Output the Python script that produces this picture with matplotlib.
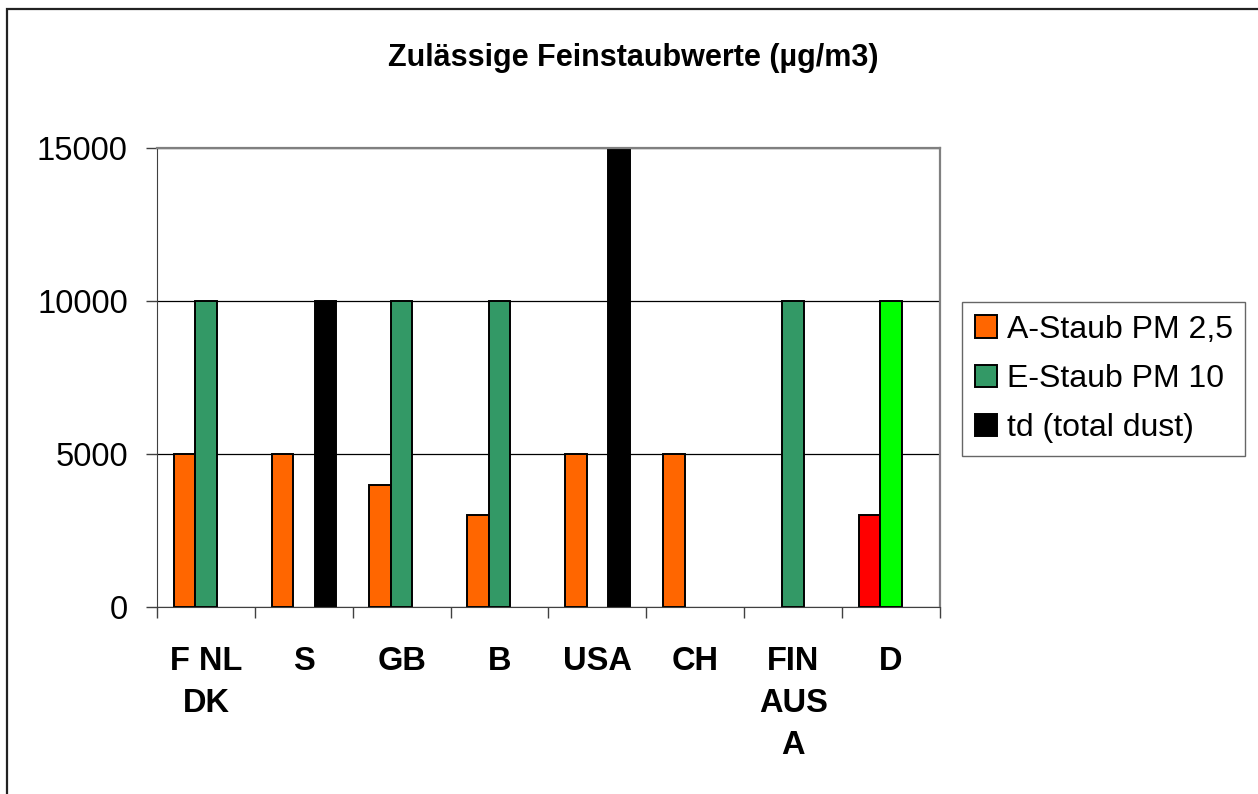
import numpy as np
import matplotlib
matplotlib.use("Agg")
import matplotlib.pyplot as plt
from matplotlib.patches import Rectangle

plt.rcParams['font.family'] = ['Liberation Sans', 'DejaVu Sans']

categories = ['F NL\nDK', 'S', 'GB', 'B', 'USA', 'CH', 'FIN\nAUS\nA', 'D']
series_names = ['A-Staub PM 2,5', 'E-Staub PM 10', 'td (total dust)']
a_staub = [5000, 5000, 4000, 3000, 5000, 5000, np.nan, 3000]
e_staub = [10000, np.nan, 10000, 10000, np.nan, np.nan, 10000, 10000]
td_dust = [np.nan, 10000, np.nan, np.nan, 15000, np.nan, np.nan, np.nan]

# series colours, D has its own highlight colours in the original
a_colors = ['#FF6600'] * 7 + ['#FF0000']
e_colors = ['#339966'] * 7 + ['#00FF00']
td_colors = ['#000000'] * 8

fig = plt.figure(figsize=(12.58, 7.94), dpi=100)
ax = fig.add_axes([0.1248, 0.2355, 0.6224, 0.578])

x = np.arange(len(categories))
w = 0.22
ax.bar(x - w, a_staub, w, color=a_colors, edgecolor='black', linewidth=1.4, label=series_names[0])
ax.bar(x, e_staub, w, color=e_colors, edgecolor='black', linewidth=1.4, label=series_names[1])
ax.bar(x + w, td_dust, w, color=td_colors, edgecolor='black', linewidth=1.4, label=series_names[2])

ax.set_xlim(-0.5, len(categories) - 0.5)
ax.set_ylim(0, 15000)
ax.set_yticks([0, 5000, 10000, 15000])
ax.yaxis.grid(True, color='black', linewidth=0.9)
ax.set_axisbelow(True)

ax.set_xticks(x)
ax.set_xticklabels(categories, fontsize=23.5, fontweight='bold', linespacing=1.45)
ax.set_xticks(np.arange(len(categories) + 1) - 0.5, minor=True)
ax.tick_params(axis='x', which='major', length=0, pad=28)
ax.tick_params(axis='x', which='minor', length=8, width=1, color='#404040')
ax.tick_params(axis='y', labelsize=23.5, length=8, width=1, color='#404040', pad=13)

for side in ['top', 'right']:
    ax.spines[side].set_color('#808080')
    ax.spines[side].set_linewidth(1.6)
ax.spines['left'].set_color('#404040')
ax.spines['bottom'].set_color('#404040')

fig.text(0.503, 0.927, 'Zulässige Feinstaubwerte (µg/m3)', fontsize=22,
         fontweight='bold', ha='center', va='center')

leg = ax.legend(loc='upper left', bbox_to_anchor=(0.7647, 0.6196),
                bbox_transform=fig.transFigure, fontsize=23, frameon=True,
                fancybox=False, borderaxespad=0, handlelength=0.7,
                handleheight=0.7, handletextpad=0.3, labelspacing=0.6,
                borderpad=0.4)
leg.get_frame().set_edgecolor('#404040')
leg.get_frame().set_linewidth(1.0)

fig.patches.append(Rectangle((0.0056, -0.1), 1.2, 1.0887, transform=fig.transFigure,
                             fill=False, edgecolor='#222222', linewidth=1.6))

fig.savefig('out.png', dpi=100)
